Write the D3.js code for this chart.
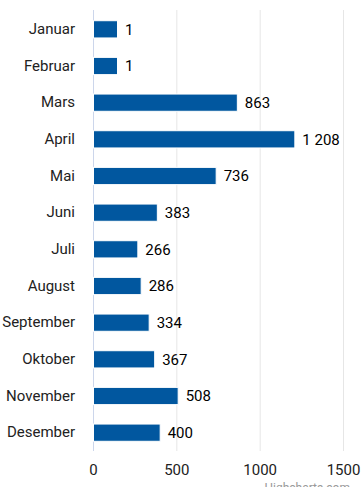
<!DOCTYPE html>
<html>
<head>
<meta charset="utf-8">
<script src="https://cdn.jsdelivr.net/npm/d3@7"></script>
<style>
  body { margin: 0; background: #fff; }
  svg { font-family: Roboto, "Noto Sans", sans-serif; }
</style>
</head>
<body>
<script>
// chart data
var months = ["Januar", "Februar", "Mars", "April", "Mai", "Juni", "Juli",
  "August", "September", "Oktober", "November", "Desember"];
var counts = [1, 1, 863, 1208, 736, 383, 266, 286, 334, 367, 508, 400];
var xTicks = [0, 500, 1000, 1500];

var svgWidth = 363;
var svgHeight = 487;

var chartMargin = { top: 11, right: 19, bottom: 36, left: 93 };
var chartWidth = svgWidth - chartMargin.left - chartMargin.right;
var chartHeight = svgHeight - chartMargin.top - chartMargin.bottom;

// bars never get shorter than this (px)
var minBarLength = 24;

var svg = d3.select("body")
  .append("svg")
  .attr("width", svgWidth)
  .attr("height", svgHeight);

var chartGroup = svg.append("g")
  .attr("transform", `translate(${chartMargin.left}, ${chartMargin.top})`);

var xScale = d3.scaleLinear()
  .domain([0, 1500])
  .range([0, 250]);

var yScale = d3.scaleBand()
  .domain(months)
  .range([0, chartHeight])
  .paddingInner(0.53)
  .paddingOuter(0.265);

// gridlines
chartGroup.selectAll(".grid")
  .data(xTicks)
  .enter()
  .append("line")
  .attr("x1", d => xScale(d) + 0.5)
  .attr("x2", d => xScale(d) + 0.5)
  .attr("y1", -1)
  .attr("y2", chartHeight)
  .attr("stroke", d => d === 0 ? "#ccd6eb" : "#e6e6e6")
  .attr("stroke-width", 1);

// x axis labels
var bottomAxis = d3.axisBottom(xScale)
  .tickValues(xTicks)
  .tickSize(0)
  .tickPadding(13)
  .tickFormat(d3.format("d"));

var xAxis = chartGroup.append("g")
  .attr("transform", `translate(0, ${chartHeight})`)
  .call(bottomAxis);
xAxis.select(".domain").remove();
xAxis.selectAll("text")
  .attr("font-size", 15)
  .attr("font-family", "Roboto, sans-serif")
  .attr("fill", "#222");

// y axis labels
var leftAxis = d3.axisLeft(yScale)
  .tickSize(0)
  .tickPadding(18);

var yAxis = chartGroup.append("g").call(leftAxis);
yAxis.select(".domain").remove();
yAxis.selectAll("text")
  .attr("font-size", 15)
  .attr("font-family", "Roboto, sans-serif")
  .attr("fill", "#222");

function barLen(v) {
  return Math.max(xScale(v), minBarLength);
}

// bars
chartGroup.selectAll(".bar")
  .data(counts)
  .enter()
  .append("rect")
  .attr("x", 0.5)
  .attr("y", (d, i) => yScale(months[i]))
  .attr("width", d => barLen(d))
  .attr("height", yScale.bandwidth())
  .attr("fill", "#01579f")
  .attr("stroke", "#ffffff")
  .attr("stroke-width", 1);

// value labels
var fmt = d => d3.format(",")(d).replace(/,/g, " ");
chartGroup.selectAll(".val")
  .data(counts)
  .enter()
  .append("text")
  .attr("x", d => barLen(d) + 8)
  .attr("y", (d, i) => yScale(months[i]) + yScale.bandwidth() / 2)
  .attr("dy", "0.35em")
  .attr("font-size", 15)
  .attr("fill", "#000")
  .text(d => fmt(d));

// credit (partly below the bottom edge, as in the original)
svg.append("text")
  .attr("x", 350)
  .attr("y", svgHeight + 5)
  .attr("text-anchor", "end")
  .attr("font-size", 12)
  .attr("fill", "#999")
  .text("Highcharts.com");
</script>
</body>
</html>
